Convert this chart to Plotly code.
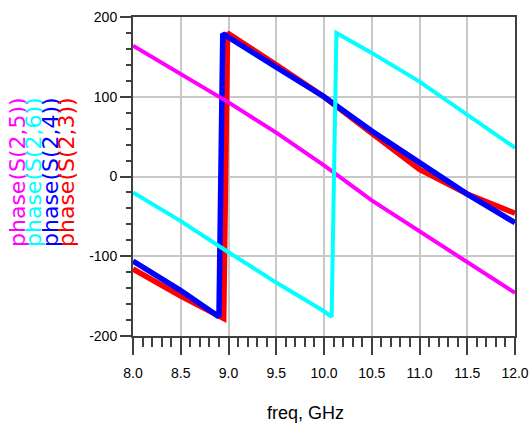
import plotly.graph_objects as go

# ---- data ----
freq_s25 = [8.0, 8.5, 9.0, 9.5, 10.0, 10.5, 11.0, 11.5, 12.0]
phase_s25 = [164, 129, 93, 55, 14, -30, -69, -108, -146]

freq_s26 = [8.0, 8.5, 9.0, 9.5, 10.0, 10.08, 10.13, 10.5, 11.0, 11.5, 12.0]
phase_s26 = [-20, -56, -95, -133, -169, -176, 180, 155, 119, 78, 36]

freq_s24 = [8.0, 8.5, 8.9, 8.94, 9.5, 10.0, 10.5, 11.0, 11.5, 12.0]
phase_s24 = [-106, -143, -176, 179, 137, 100, 57, 17, -22, -58]

freq_s23 = [8.0, 8.5, 8.95, 8.99, 9.5, 10.0, 10.5, 11.0, 11.5, 12.0]
phase_s23 = [-116, -150, -178, 180, 140, 100, 54, 9, -22, -46]

legend_labels = ["phase(S(2,5))", "phase(S(2,6))", "phase(S(2,4))", "phase(S(2,3))"]
legend_colors = ["#FF00FF", "#00FFFF", "#0000FF", "#FF0000"]

x_tick_vals = [8.0, 8.5, 9.0, 9.5, 10.0, 10.5, 11.0, 11.5, 12.0]
x_tick_text = ["8.0", "8.5", "9.0", "9.5", "10.0", "10.5", "11.0", "11.5", "12.0"]
y_tick_vals = [-200, -100, 0, 100, 200]
y_tick_text = ["-200", "-100", "0", "100", "200"]

fig = go.Figure()
fig.add_trace(go.Scatter(x=freq_s23, y=phase_s23, mode="lines",
                         line=dict(color="#FF0000", width=5.5), name="phase(S(2,3))"))
fig.add_trace(go.Scatter(x=freq_s24, y=phase_s24, mode="lines",
                         line=dict(color="#0000FF", width=5.5), name="phase(S(2,4))"))
fig.add_trace(go.Scatter(x=freq_s25, y=phase_s25, mode="lines",
                         line=dict(color="#FF00FF", width=4), name="phase(S(2,5))"))
fig.add_trace(go.Scatter(x=freq_s26, y=phase_s26, mode="lines",
                         line=dict(color="#00FFFF", width=4), name="phase(S(2,6))"))

tick_font = dict(family="Liberation Sans, Arial", size=14, color="#000000")

fig.update_layout(
    width=529, height=436, autosize=False,
    margin=dict(l=133, r=14, t=17, b=100),
    paper_bgcolor="white", plot_bgcolor="white",
    showlegend=False,
    xaxis=dict(
        range=[8.0, 12.0], tickvals=x_tick_vals, ticktext=x_tick_text,
        automargin=False,
        showline=True, linecolor="#404040", linewidth=2, mirror=True,
        showgrid=True, gridcolor="#C8C8C8", gridwidth=1.5,
        ticks="outside", ticklen=17, tickwidth=1.5, tickcolor="#404040",
        ticklabelstandoff=6,
        minor=dict(dtick=0.1, ticks="outside", ticklen=9, tickwidth=1.5,
                   tickcolor="#404040", showgrid=False),
        tickfont=tick_font, zeroline=False,
    ),
    yaxis=dict(
        range=[-200, 200], tickvals=y_tick_vals, ticktext=y_tick_text,
        automargin=False,
        showline=True, linecolor="#404040", linewidth=2, mirror=True,
        showgrid=True, gridcolor="#C8C8C8", gridwidth=1.5,
        ticks="outside", ticklen=11, tickwidth=1.5, tickcolor="#404040",
        minor=dict(dtick=20, ticks="outside", ticklen=5, tickwidth=1.5,
                   tickcolor="#404040", showgrid=False),
        tickfont=tick_font, zeroline=False,
    ),
)

fig.add_annotation(text="freq, GHz", xref="paper", yref="paper",
                   x=(305 - 133) / 382, y=(336 - 413) / 319,
                   xanchor="center", yanchor="middle", showarrow=False,
                   font=dict(family="Liberation Sans, Arial", size=18, color="#000000"))

legend_x_px = [17, 33, 50, 66]
for lbl, col, px in zip(legend_labels, legend_colors, legend_x_px):
    fig.add_annotation(text=lbl, xref="paper", yref="paper",
                       x=(px - 133) / 382, y=(336 - 172) / 319,
                       xanchor="center", yanchor="middle", textangle=-90,
                       showarrow=False,
                       font=dict(family="DejaVu Sans", size=22, color=col))

fig.write_html("out.html", config={"displayModeBar": False, "responsive": False},
               post_script="document.body.style.margin='0px';document.body.style.overflow='hidden';")
